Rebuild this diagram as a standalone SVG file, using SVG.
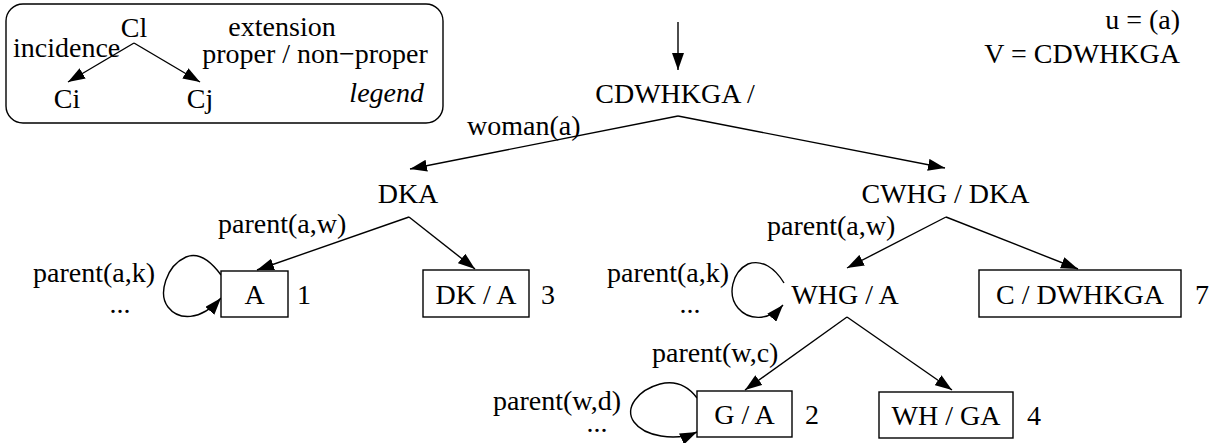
<svg xmlns="http://www.w3.org/2000/svg" width="1231" height="443" viewBox="0 0 1231 443">
<style>
text{font-family:"Liberation Serif","Times New Roman",serif;font-size:28px;fill:#000}
.m{text-anchor:middle}
.e{text-anchor:end}
.it{font-style:italic}
.box{fill:#fff;stroke:#000;stroke-width:1.4}
.ln{fill:none;stroke:#000;stroke-width:1.4;marker-end:url(#ah)}
.plain{fill:none;stroke:#000;stroke-width:1.4}
</style>
<defs>
<marker id="ah" markerUnits="userSpaceOnUse" markerWidth="18" markerHeight="12" refX="17" refY="6" orient="auto">
<path d="M0,0 L17,6 L0,12 Z" fill="#000"/>
</marker>
</defs>
<g id="legend">
<rect x="6" y="4" width="437" height="119" rx="17" ry="17" class="box"/>
<text x="134" y="37" class="m">Cl</text>
<text x="13" y="57">incidence</text>
<text x="282" y="36" class="m">extension</text>
<text x="315" y="63" class="m">proper / non−proper</text>
<text x="424" y="102" class="e it">legend</text>
<text x="67" y="108" class="m">Ci</text>
<text x="200" y="108" class="m">Cj</text>
<line x1="134" y1="43" x2="68" y2="82" class="ln"/>
<line x1="134" y1="43" x2="200" y2="82" class="ln"/>
</g>
<g id="info">
<text x="1180" y="29" class="e">u = (a)</text>
<text x="1180" y="63" class="e">V = CDWHKGA</text>
</g>
<g id="connectors">
<line x1="678" y1="22" x2="678" y2="70" class="ln"/>
<line x1="678" y1="116" x2="410" y2="169" class="ln"/>
<line x1="678" y1="116" x2="945" y2="168" class="ln"/>
<line x1="409" y1="217" x2="257" y2="270" class="ln"/>
<line x1="409" y1="217" x2="475" y2="269" class="ln"/>
<line x1="946" y1="217" x2="847" y2="268" class="ln"/>
<line x1="946" y1="217" x2="1078" y2="269" class="ln"/>
<line x1="847" y1="317" x2="745" y2="390" class="ln"/>
<line x1="847" y1="317" x2="952" y2="390" class="ln"/>
<path d="M221,275 C210,260 198,252 186,257 C166,266 158,294 168,307 C178,320 200,322 221,298" class="ln"/>
<path d="M784,283 C775,268 762,259 748,264 C732,272 727,295 738,308 C748,320 768,322 783,305" class="ln"/>
<path d="M697,398 C688,386 676,380 660,384 C638,390 624,408 634,422 C644,436 675,442 697,432" class="ln"/>
</g>
<g id="labels">
<text x="467" y="135">woman(a)</text>
<text x="218" y="233">parent(a,w)</text>
<text x="767" y="235">parent(a,w)</text>
<text x="155" y="282" class="e">parent(a,k)</text>
<text x="120" y="313" class="m">...</text>
<text x="729" y="282" class="e">parent(a,k)</text>
<text x="690" y="313" class="m">...</text>
<text x="652" y="362">parent(w,c)</text>
<text x="621" y="410" class="e">parent(w,d)</text>
<text x="597" y="432" class="m">...</text>
</g>
<g id="n-root"><text x="675" y="103" class="m">CDWHKGA /</text></g>
<g id="n-dka"><text x="408" y="203" class="m">DKA</text></g>
<g id="n-cwhg"><text x="945.5" y="203" class="m">CWHG / DKA</text></g>
<g id="n-a"><rect x="221" y="271" width="67" height="46" class="box"/><text x="254.5" y="304" class="m">A</text><text x="297" y="304">1</text></g>
<g id="n-dk"><rect x="423" y="270" width="106" height="47" class="box"/><text x="476" y="304" class="m">DK / A</text><text x="541" y="304">3</text></g>
<g id="n-whg"><text x="845" y="304" class="m">WHG / A</text></g>
<g id="n-c"><rect x="979" y="270" width="202" height="47" class="box"/><text x="1080" y="304" class="m">C / DWHKGA</text><text x="1195" y="304">7</text></g>
<g id="n-g"><rect x="697" y="391" width="95" height="46" class="box"/><text x="744.5" y="424" class="m">G / A</text><text x="805" y="424">2</text></g>
<g id="n-wh"><rect x="879" y="392" width="134" height="46" class="box"/><text x="946" y="425" class="m">WH / GA</text><text x="1027" y="425">4</text></g>
</svg>
